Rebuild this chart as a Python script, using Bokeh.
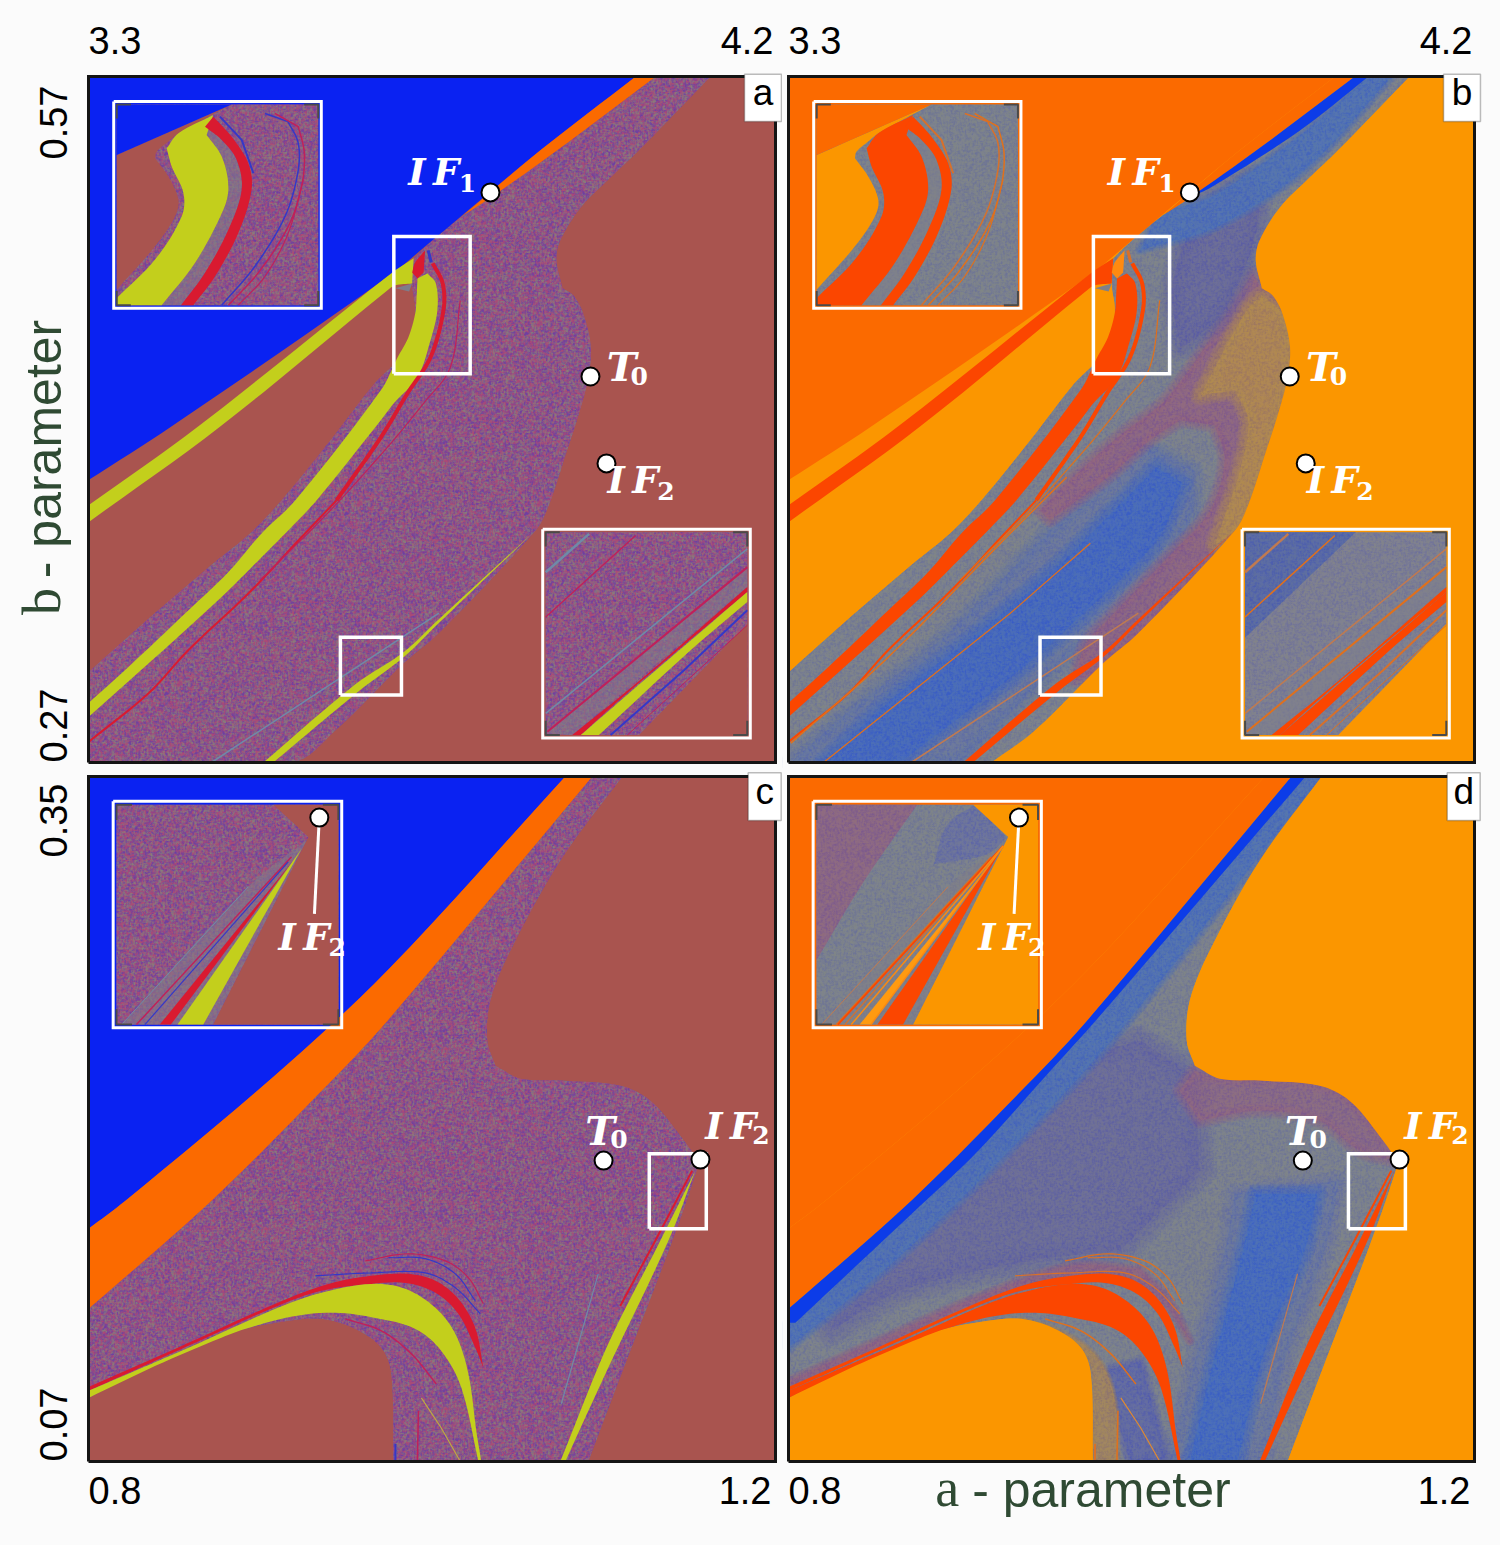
import base64, struct, zlib
import numpy as np
from bokeh.plotting import figure
from bokeh.models import Range1d, Label, BoxAnnotation, ImageURLTexture
from bokeh.layouts import column, row
from bokeh.embed import file_html
from bokeh.resources import INLINE

# ---------- parameter windows and tick labels ----------
A_TOP = (3.3, 4.2); B_TOP = (0.27, 0.57)
A_BOT = (0.8, 1.2); B_BOT = (0.07, 0.35)
TICKS_TOP = ("3.3", "4.2"); TICKS_LEFT_TOP = ("0.27", "0.57")
TICKS_BOT = ("0.8", "1.2"); TICKS_LEFT_BOT = ("0.07", "0.35")

# ---------- a,b plane, upper panels: regions ----------
UB_A = [3.3, 4.017, 3.892, 3.749, 3.693, 3.409, 3.3]
UB_B = [.57, .57, .5377, .4979, .4826, .417, .3935]
US_A = [4.017, 4.043, 3.914, 3.827, 3.791, 3.892]
US_B = [.57, .57, .5377, .5171, .5093, .5377]
UN_A = [3.749, 3.791, 3.827, 3.914, 4.043, 4.115, 4.021, 3.984, 3.945, 3.918, 3.913, 3.921, 3.935, 3.948, 3.958,
        3.954, 3.941, 3.927, 3.903, 3.886, 3.759, 3.713, 3.624, 3.566, 3.3, 3.3, 3.381, 3.464, 3.512, 3.553, 3.617,
        3.675, 3.718, 3.726, 3.728, 3.724, 3.726]
UN_B = [.4979, .5093, .5171, .5377, .57, .57, .5377, .5259, .5128, .4983, .4896, .4774, .4743, .4664, .4516,
        .4372, .421, .4066, .3825, .3716, .3266, .3135, .2842, .27, .27, .3095, .3336, .3572, .3703, .3847, .4109,
        .4358, .4503, .459, .4691, .4787, .4905]
UY_A = [3.3, 3.352, 3.431, 3.483, 3.527, 3.571, 3.683, 3.705, 3.719, 3.728, 3.730, 3.731, 3.744, 3.755, 3.757,
        3.748, 3.731, 3.700, 3.683, 3.599, 3.571, 3.523, 3.474, 3.388, 3.3]
UY_B = [.296, .3117, .3366, .3532, .3703, .3847, .4328, .4472, .4559, .4664, .4752, .4817, .4839, .4795, .4677,
        .4546, .4385, .4271, .4197, .3847, .3747, .3585, .3423, .3161, .2899]
UW_A = [3.3, 3.444, 3.698, 3.726, 3.724, 3.702, 3.693, 3.473, 3.3]
UW_B = [.3825, .417, .4843, .4905, .4795, .4787, .4769, .417, .3751]
UT_A = [3.702, 3.724, 3.72]; UT_B = [.4774, .4795, .476]
URB_A = [3.724, 3.728, 3.741, 3.739, 3.731]
URB_B = [.4843, .4887, .494, .4843, .4817]
UBL_A = [3.745, 3.749]; UBL_B = [.494, .4887]
UR1_A = [3.751, 3.764, 3.765, 3.748, 3.718, 3.683, 3.625]
UR1_B = [.4883, .4795, .4677, .4472, .4315, .4122, .3847]
UR2_A = [3.625, 3.579, 3.51, 3.431, 3.379, 3.3]
UR2_B = [.3847, .3685, .3441, .3192, .3004, .279]
UL_A = [3.529, 3.65, 3.713, 3.759, 3.886, 3.759, 3.713, 3.656, 3.542]
UL_B = [.27, .3043, .3183, .3327, .3716, .331, .3161, .3017, .27]
UC_A = [3.787, 3.774, 3.739, 3.696, 3.617, 3.525]
UC_B = [.4721, .4428, .4271, .4096, .3803, .3498]
UG_A = [3.461, 3.759]; UG_B = [.27, .3353]

# panel b shading
BS_A = [4.043, 4.061, 3.971, 3.859, 3.827, 3.914]
BS_B = [.57, .57, .5464, .5224, .5171, .5377]
BM_A = [4.061, 4.091, 3.984, 3.866, 3.761, 3.791, 3.859, 3.971]
BM_B = [.57, .57, .5311, .5049, .494, .5093, .518, .5442]
BV_A = [3.844, 3.909, 3.918, 3.901, 3.866, 3.814, 3.804]
BV_B = [.5119, .5263, .5119, .4883, .4651, .4507, .4795]
BP_A = [3.909, 3.8, 3.735, 3.669, 3.63, 3.643, 3.722, 3.774, 3.814, 3.859, 3.872, 3.853, 3.807, 3.722, 3.689, 3.676,
        3.709, 3.886, 3.903, 3.927, 3.941, 3.954, 3.958, 3.948, 3.935, 3.921]
BP_B = [.4839, .4306, .4131, .3935, .3803, .376, .3956, .4109, .4197, .4175, .4022, .3803, .3629, .3336, .3213, .306,
        .3104, .3716, .3825, .4066, .421, .4372, .4516, .4664, .4743, .4774]
BT_A = [3.921, 3.948, 3.958, 3.954, 3.941, 3.927, 3.903, 3.886, 3.859, 3.892, 3.903, 3.886, 3.84, 3.901]
BT_B = [.4743, .4664, .4516, .4372, .421, .4066, .3825, .3716, .365, .3978, .4197, .4328, .4306, .4677]
BC_A = [3.817, 3.783, 3.718, 3.652, 3.548, 3.434, 3.346, 3.447, 3.608, 3.696, 3.783]
BC_B = [.3921, .3991, .3773, .3554, .3266, .2973, .27, .27, .3117, .338, .3672]
BF_A = [3.833, 3.761, 3.63, 3.499, 3.381, 3.303, 3.525, 3.656, 3.761, 3.827]
BF_B = [.3978, .4109, .3672, .3235, .293, .27, .27, .3126, .341, .376]
BO1_A = [3.303, 3.431, 3.582, 3.665]; BO1_B = [.2785, .3161, .3672, .3948]
BO2_A = [3.346, 3.591, 3.696]; BO2_B = [.27, .3353, .3659]

# ---------- a,b plane, lower panels ----------
LB_A = [.8, 1.0776, .9746, .9077, .8215, .8]
LB_B = [.35, .35, .2711, .2273, .1766, .1651]
LS_A = [1.0776, 1.0933, .9746, .9438, .8716, .8, .8, .8215, .9077, .9746]
LS_B = [.35, .35, .2506, .2273, .1766, .1324, .1651, .1766, .2273, .2711]
LN_A = [1.0933, 1.1108, 1.0747, 1.0456, 1.034, 1.0322, 1.0369, 1.0514, 1.0747, 1.1096, 1.1271, 1.1445, 1.1544, 1.1544,
        1.1399, 1.1154, 1.1015, 1.091, .9775, .9763, .9705, .9554, .9356, .9164, .8873, .839, .8, .8, .8716, .9438, .9746]
LN_B = [.35, .35, .3156, .2788, .2584, .242, .2318, .2265, .2257, .2236, .2175, .2032, .1929, .1897,
        .1602, .1152, .0895, .07, .07, .1058, .1165, .1242, .1283, .1275, .1234, .1099, .096, .1324, .1766, .2273, .2506]
LY_A = [.8, .8582, .9088, .9356, .9647, .9845, 1.002, 1.0136, 1.0212, 1.0258, 1.0287, 1.027, 1.0171, 1.0054, .9903, .967,
        .9438, .9205, .8931, .8774, .839, .8]
LY_B = [.0989, .1165, .1324, .139, .1426, .1406, .1328, .1222, .1058, .0825, .07, .07, .1001, .1152, .1242, .1287,
        .1308, .1295, .1246, .1206, .1091, .096]
LR_A = [.8, .8582, .9088, .9397, .9647, .9862, 1.002, 1.0153, 1.0252, 1.0299, 1.0252, 1.0153, 1.002, .9845, .9647, .9356,
        .9088, .8582, .8]
LR_B = [.1005, .1185, .1345, .1426, .1459, .1467, .1439, .1365, .1246, .1083, .1165, .1304, .139, .143, .1426, .1398,
        .1332, .1173, .0989]
LY2_A = [1.1533, 1.1376, 1.1026, 1.0776, 1.0747, 1.1026, 1.1329]
LY2_B = [.1889, .1602, .1083, .07, .07, .1181, .1602]
LR2_A = [1.1515, 1.13, 1.1096]; LR2_B = [.1889, .1602, .1336]
LT1_A = [.9321, .9647, .9961, 1.0136, 1.0281]; LT1_B = [.1459, .1471, .1471, .141, .1304]
LT2_A = [.9612, .9862, 1.0078, 1.0212, 1.0299]; LT2_B = [.152, .1549, .152, .1451, .1345]
LT3_A = [.9746, .9961, 1.0136, 1.0252]; LT3_B = [.1533, .1529, .1467, .1357]
LT4_A = [.9496, .9705, .988, 1.0025]; LT4_B = [.1283, .1234, .114, .1017]
LT5_A = [.9921, .9915]; LT5_B = [.0907, .07]
LT6_A = [.9938, 1.0054, 1.0165]; LT6_B = [.096, .0837, .07]
LT7_A = [.9787, .9787]; LT7_B = [.0772, .07]
LT8_A = [1.0968, 1.0753]; LT8_B = [.1467, .0936]

# panel d shading
DS_A = [1.0933, 1.1015, .9816, .9496, .9106, .8768, .804, .8, .8, .8716, .9438, .9746]
DS_B = [.35, .35, .2522, .2273, .197, .1745, .1267, .1267, .1324, .1766, .2273, .2506]
DM_A = [1.1015, 1.1108, .9932, .9286, .8652, .8, .8, .804, .8768, .9106, .9496, .9816]
DM_B = [.35, .35, .2461, .197, .1541, .1165, .1267, .1267, .1745, .197, .2273, .2522]
DV_A = [1.0049, 1.0369, 1.0398, .9932, .9408, .8652, .8244, .8303, .9001, .9699]
DV_B = [.242, .2277, .1889, .1561, .152, .1398, .1234, .1357, .1889, .2338]
DC_A = [1.0724, 1.1085, 1.1009, 1.0776, 1.0619, 1.034, 1.0468, 1.0648]
DC_B = [.1794, .1794, .1561, .1152, .07, .07, .1083, .1561]
DF_A = [1.0602, 1.1213, 1.1125, 1.0893, 1.0776, 1.0223, 1.0369, 1.0543]
DF_B = [.1794, .1848, .1561, .1111, .07, .07, .1111, .1561]
DP_A = [1.0369, 1.0514, 1.0747, 1.1096, 1.1271, 1.1445, 1.1544, 1.1329, 1.1096, 1.0747, 1.0398, 1.0281]
DP_B = [.2298, .2265, .2257, .2236, .2175, .2032, .1929, .197, .2093, .2134, .2093, .2216]
DA_A = [.8, .8582, .9088, .9647, 1.0049, 1.0223, 1.034, 1.0223, 1.0049, .9647, .9088, .8582, .8]
DA_B = [.103, .1214, .1369, .15, .1488, .1357, .1193, .1316, .1418, .1451, .1345, .1185, .1005]
DL_A = [.9775, .9775, .9921, .9903, .9816, .9641, .9356, .9554, .9705]
DL_B = [.1058, .07, .07, .0948, .1111, .1214, .1283, .1242, .1165]
DK_A = [.9845, 1.0054, 1.0212, .999]; DK_B = [.107, .1111, .07, .07]

# ---------- enlarged views, percent across and down each window ----------
I1_BLUE = ([0, 57, 0], [0, 0, 25.2])
I1_BROWN = ([0, 57, 30.6, 25.6, 19.8, 19, 25.6, 30.6, 28.9, 19, 0], [25.2, 0, 14.4, 18.5, 23.5, 26.8, 35.9, 47.5, 55.8, 70.7, 92.2])
I1_YEL = ([0, 19, 32.2, 33.1, 27.3, 24.8, 30.6, 47.9, 44.6, 52.1, 55.4, 52.9, 38.8, 22.3, 0],
          [96.4, 77.3, 55.8, 44.2, 31, 21.9, 14.4, 5.3, 15.2, 26, 40.9, 52.5, 79, 100, 100])
I1_RED = ([43.8, 47.9, 57, 65.3, 66.9, 60.3, 48.8, 38, 31.9, 43.8, 55.4, 62, 59.5, 52.1],
          [11.1, 6.1, 16.1, 29.3, 42.5, 64.1, 85.6, 100, 100, 83.9, 62.4, 42.5, 27.6, 17.7])
I1_GREY = ([22.3, 38.8, 52.9, 55.4, 52.1, 44.6, 43.8, 52.1, 59.5, 62, 55.4, 43.8, 31.9],
           [100, 79, 52.5, 40.9, 26, 15.2, 11.1, 17.7, 27.6, 42.5, 62.4, 83.9, 100])
I1_L1 = ([51.2, 62, 67.8], [6.1, 17.7, 34.3])
I1_L2 = ([73.6, 85, 90.1, 89.8, 83.5, 68.6, 52.1], [4.5, 8.6, 19.4, 34.3, 55.8, 80.6, 100])
I1_L3 = ([78.5, 90.1, 93.1, 91.7, 85.1, 70.2, 55.4], [4.5, 11.1, 24.3, 40.9, 60.8, 83.9, 100])
I1_L4 = ([92.6, 85.1, 73.6, 60.3], [37.6, 64.1, 85.6, 100])

I2_BROWN = ([46.3, 100, 100], [100, 45.1, 100])
I2_GREY = ([0, 100, 100, 13.2], [99.2, 18, 27, 100])
I2_YEL = ([17.4, 48.8, 100, 100, 71.9, 26.4], [100, 73, 29.5, 34.4, 58.2, 100])
I2_RED = ([13.2, 48.8, 100, 100, 63.6, 35.5, 17.4], [100, 71.3, 27, 29.5, 59.8, 83.6, 100])
I2_L1 = ([32.2, 68.6, 100], [100, 68, 38.5])
I2_L2 = ([40.5, 100], [100, 45.9])
I2_L3 = ([.8, 100], [98.4, 17.2])
I2_L4 = ([0, 100], [89.3, 8.2])
I2_L5 = ([0, 44.6], [41.8, 1.6])
I2_L6 = ([0, 21.5], [19.7, .8])

I3_BROWN = ([70.7, 86.5, 43.6, 100, 100], [0, 14.7, 100, 100, 0])
I3_GREY = ([85.7, 59.4, 2.3, 43.6], [16.2, 37.3, 100, 100])
I3_YEL = ([83.5, 27.5, 39.1], [19.9, 100, 100])
I3_RED = ([79.2, 19.5, 24.5], [26, 100, 100])
I3_L1 = ([78.9, 9], [23.7, 100])
I3_L2 = ([77.4, 12.8], [26, 100])
I3_L3 = ([59.4, 2.3], [37.3, 100])
I3_STICK = ([91.4, 89.2], [5.9, 49.7])
I3_DOT = ([91.4], [5.9])
I4_PURPLE = ([0, 45.5, 21.6, 0], [0, 0, 34.6, 70.7])
I4_BLUE = ([71.6, 85.8, 76.9, 53, 59], [0, 15, 22.6, 27.1, 9])
I4_L1 = ([84.3, 9.7], [18.8, 100])
I4_L2 = ([84.3, 15.7], [18.8, 100])
I4_L3 = ([84.3, 24.6], [18.8, 100])

# ---------- marked points ----------
T0_TOP = (3.9576, .4388); IF1_TOP = (3.8266, .5193); IF2_TOP = (3.9786, .4008)
T0_BOT = (1.0999, .1930); IF2_BOT = (1.1563, .1934)

# ---------- palettes ----------
LEFT = dict(bg="#a9544f", blue="#0a22f2", strip="#fb6a00", noise="#805488", yellow="#c3cf1c",
            red="#d91a30", grey="#7f7c8a", thin_red="#c0205a", thin_blue="#3438c8", steel="#6f8aa8", olive="#c0a840",
            grain=("#6a3aa8", "#b44672", "#8a8478"), grain_alpha=225)
RIGHT = dict(bg="#fb9600", blue="#fb6a00", strip="#fb6a00", noise="#77808c", yellow="#fb4600",
             red="#fb4600", grey="#80808a", thin_red="#e0701c", thin_blue="#d8702a", steel="#c07a50", olive="#e08a30",
             grain=("#5a5ea8", "#8a8a90", "#8e907a"), grain_alpha=105)

SANS = "Liberation Sans"; SERIF = "Liberation Serif"; LABEL_SERIF = "DejaVu Serif"; GREEN = "#2f4a33"; PAGE = "#fbfbfb"


def grain_texture(cols, alpha):
    """Fine mottling of the chaotic regions: a fill style only, it carries no values."""
    n = 180
    i, j = np.mgrid[0:n, 0:n]
    w = []
    for k in range(3):
        h = np.sin(i * 12.9898 + j * 78.233 + k * 37.719) * 43758.5453
        h = h - np.floor(h)
        h = (2 * h + np.roll(h, 1, 0) + np.roll(h, -1, 0) + np.roll(h, 1, 1) + np.roll(h, -1, 1)) / 6
        w.append(((h - h.min()) / (h.max() - h.min())) ** 3)
    w = np.array(w)
    w = w / w.sum(axis=0)
    rgb = np.array([[int(c[t:t + 2], 16) for t in (1, 3, 5)] for c in cols], float)
    img = np.einsum("kij,kc->ijc", w, rgb)
    rgba = np.dstack([img, np.full((n, n), alpha)]).astype(np.uint8)
    raw = b"".join(b"\x00" + rgba[r].tobytes() for r in range(n))

    def chunk(tag, data):
        return struct.pack(">I", len(data)) + tag + data + struct.pack(">I", zlib.crc32(tag + data))
    png = b"\x89PNG\r\n\x1a\n" + chunk(b"IHDR", struct.pack(">IIBBBBB", n, n, 8, 6, 0, 0, 0)) + \
        chunk(b"IDAT", zlib.compress(raw, 9)) + chunk(b"IEND", b"")
    return "data:image/png;base64," + base64.b64encode(png).decode()


def smooth(p, a, b, closed=True):
    sx = p.width / (p.x_range.end - p.x_range.start)
    sy = p.height / (p.y_range.end - p.y_range.start)
    P = np.column_stack([np.asarray(a, float) * sx, np.asarray(b, float) * sy])
    n = len(P)
    if n < 4:
        return a, b
    idx = list(range(n)) + ([0] if closed else [])
    corner = [False] * n
    for i in range(n):
        if not closed and i in (0, n - 1):
            corner[i] = True
            continue
        u = P[i] - P[(i - 1) % n]
        v = P[(i + 1) % n] - P[i]
        nu, nv = np.hypot(*u), np.hypot(*v)
        if nu == 0 or nv == 0 or np.dot(u, v) / (nu * nv) < 0.8:
            corner[i] = True
    out = []
    for k in range(len(idx) - 1):
        i, j = idx[k], idx[k + 1]
        L = np.hypot(*(P[j] - P[i]))
        if L == 0:
            continue
        ti = P[j] - P[i] if corner[i] else (P[j] - P[(i - 1) % n])
        tj = P[j] - P[i] if corner[j] else (P[(j + 1) % n] - P[i])
        ti = ti / max(np.hypot(*ti), 1e-9) * L
        tj = tj / max(np.hypot(*tj), 1e-9) * L
        for t in np.linspace(0, 1, 8, endpoint=False):
            h = (2*t**3 - 3*t**2 + 1) * P[i] + (t**3 - 2*t**2 + t) * ti + (-2*t**3 + 3*t**2) * P[j] + (t**3 - t**2) * tj
            out.append(h)
    if not closed:
        out.append(P[-1])
    out = np.array(out)
    return out[:, 0] / sx, out[:, 1] / sy


def poly(p, a, b, color, soft=0, alpha=1.0):
    xs, ys = smooth(p, a, b)
    if soft:
        for w in np.linspace(soft, soft / 6, 6):
            p.patch(xs, ys, fill_alpha=0, line_color=color, line_alpha=.2 * alpha, line_width=float(w), line_join="round")
    p.patch(xs, ys, fill_color=color, fill_alpha=alpha, line_color=None)


def curve(p, a, b, color, width):
    xs, ys = smooth(p, a, b, closed=False)
    p.line(xs, ys, line_color=color, line_width=width)


def speckle(p, a, b, c):
    xs, ys = smooth(p, a, b)
    tex = ImageURLTexture(url=grain_texture(c["grain"], c["grain_alpha"]), repetition="repeat")
    p.patch(xs, ys, fill_alpha=0, line_color=None, hatch_pattern="grain", hatch_extra={"grain": tex}, hatch_color="black", hatch_alpha=1)


def make(w, h, xr, yr, left, right, top, bottom, bg):
    sx = (xr[1] - xr[0]) / w
    sy = (yr[1] - yr[0]) / h
    p = figure(width=left + w + right, height=top + h + bottom,
               x_range=Range1d(xr[0] - left * sx, xr[1] + right * sx),
               y_range=Range1d(yr[0] - bottom * sy, yr[1] + top * sy),
               output_backend="svg", toolbar_location=None, min_border=0,
               background_fill_color=PAGE, border_fill_color=PAGE)
    p.axis.visible = False
    p.grid.visible = False
    p.outline_line_color = None
    p.patch([xr[0], xr[1], xr[1], xr[0]], [yr[0], yr[0], yr[1], yr[1]], fill_color=bg, line_color=None)
    return p


def mask(p, xr, yr):
    """Page colour round the window, so that soft shading stops at the frame."""
    x0, x1 = p.x_range.start, p.x_range.end
    y0, y1 = p.y_range.start, p.y_range.end
    for ax, bx in (([x0, xr[0], xr[0], x0], [y0, y0, y1, y1]), ([xr[1], x1, x1, xr[1]], [y0, y0, y1, y1]),
                   ([x0, x1, x1, x0], [y0, y0, yr[0], yr[0]]), ([x0, x1, x1, x0], [yr[1], yr[1], y1, y1])):
        p.patch(ax, bx, fill_color=PAGE, line_color=None)


def outline(p, xr, yr):
    p.line([xr[0], xr[1], xr[1], xr[0], xr[0]], [yr[0], yr[0], yr[1], yr[1], yr[0]], line_color="#141414",
           line_width=3, line_join="miter")


def window(a0, a1, b0, b1):
    def f(fx, fy):
        return a0 + (a1 - a0) * np.array(fx, float) / 100, b0 + (b1 - b0) * np.array(fy, float) / 100
    return f


def txt(p, x, y, s, size, color="black", font=SANS, style="normal", align="left", angle=0, dx=0, dy=0):
    lift = .38 * size
    if angle:
        dx -= lift
    else:
        dy += lift
    p.add_layout(Label(x=x, y=y, text=s, text_font=font, text_font_size=f"{size}px", text_font_style=style,
                       text_color=color, text_align=align, text_baseline="alphabetic", angle=angle,
                       x_offset=dx, y_offset=dy))


def frame(p, f):
    xs, ys = f([-1.5, 101.5, 101.5, -1.5, -1.5], [-1.5, -1.5, 101.5, 101.5, -1.5])
    p.line(xs, ys, line_color="white", line_width=3, line_join="miter")


def corners(p, f):
    for fx, fy in (([0, 0, 7], [7, 0, 0]), ([93, 100, 100], [0, 0, 7]), ([0, 0, 7], [93, 100, 100]), ([93, 100, 100], [100, 100, 93])):
        xs, ys = f(fx, fy)
        p.line(xs, ys, line_color="#4a4a4a", line_width=2)


def zoombox(p, a0, a1, b0, b1):
    p.line([a0, a1, a1, a0, a0], [b0, b0, b1, b1, b0], line_color="white", line_width=3.5, line_join="miter")


def letter(p, s, x0, x1, y0, y1):
    p.add_layout(BoxAnnotation(left=x0, right=x1, bottom=y0, top=y1, fill_color="white", fill_alpha=1,
                               line_color="#222222", line_width=1.5))
    txt(p, (x0 + x1) / 2, y0, s, 37, align="center", dy=15)


def marks(p, xs, ys):
    p.scatter(xs, ys, size=18, fill_color="white", line_color="black", line_width=2)


def name(p, x, y, head, sub, xs, ys, size=37):
    txt(p, x, y, head, size, color="white", font=LABEL_SERIF, style="bold italic")
    txt(p, xs, ys, sub, 25, color="white", font=LABEL_SERIF, style="bold")


def panel_top(c, right, box):
    p = make(*box, c["bg"])
    xr, yr = box[2], box[3]
    poly(p, UN_A, UN_B, c["noise"])
    if right:
        poly(p, BF_A, BF_B, "#4a68b8", soft=20, alpha=.6)
        poly(p, BC_A, BC_B, "#1f58dc", soft=22, alpha=.95)
        poly(p, BP_A, BP_B, "#9a4c78", soft=16, alpha=.85)
        poly(p, BT_A, BT_B, "#cc8a2a", soft=20, alpha=.95)
        poly(p, BV_A, BV_B, "#5050a8", soft=26, alpha=.75)
        poly(p, BM_A, BM_B, "#2f66cc", soft=10, alpha=.95)
    speckle(p, UN_A, UN_B, c)
    if right:
        poly(p, UN_A[5:24] + [4.2, 4.2], UN_B[5:24] + [.27, .57], c["bg"])
        poly(p, UN_A[25:] + UN_A[:5] + [3.3], UN_B[25:] + UN_B[:5] + [.57], c["bg"])
    poly(p, UB_A, UB_B, c["blue"])
    poly(p, US_A, US_B, c["strip"])
    if right:
        poly(p, BS_A, BS_B, "#0c3ce8")
    poly(p, UW_A, UW_B, c["yellow"])
    poly(p, UY_A, UY_B, c["yellow"])
    poly(p, UL_A, UL_B, c["yellow"])
    poly(p, UT_A, UT_B, c["grey"])
    poly(p, URB_A, URB_B, c["red"] if not right else "#ff8a10")
    curve(p, UBL_A, UBL_B, c["thin_blue"], 3)
    curve(p, UR1_A, UR1_B, c["red"], 4)
    curve(p, UR2_A, UR2_B, c["red"], 2)
    curve(p, UC_A, UC_B, c["thin_red"], 1.2)
    curve(p, UG_A, UG_B, c["steel"], 1.5)
    if right:
        curve(p, BO1_A, BO1_B, "#e0701c", 1.5)
        curve(p, BO2_A, BO2_B, "#e0701c", 1.2)
    mask(p, xr, yr)
    zoombox(p, 3.70, 3.80, .44, .50)
    zoombox(p, 3.63, 3.71, .2995, .3248)
    # enlarged view of the fold
    f = window(3.337, 3.601, .5578, .47)
    full = f([0, 100, 100, 0], [0, 0, 100, 100])
    poly(p, *full, c["noise"])
    speckle(p, *full, c)
    poly(p, *f(*I1_GREY), c["grey"], alpha=.55)
    poly(p, *f(*I1_BROWN), c["bg"])
    poly(p, *f(*I1_BLUE), c["blue"])
    poly(p, *f(*I1_YEL), c["yellow"])
    poly(p, *f(*I1_RED), c["red"])
    curve(p, *f(*I1_L1), c["thin_blue"], 2)
    curve(p, *f(*I1_L2), c["thin_blue"], 1.5)
    curve(p, *f(*I1_L3), c["thin_red"], 1.5)
    curve(p, *f(*I1_L4), c["thin_red"], 1.2)
    frame(p, f)
    corners(p, f)
    # enlarged view near the lower tongue
    f = window(3.899, 4.163, .3707, .282)
    full = f([0, 100, 100, 0], [0, 0, 100, 100])
    poly(p, *full, c["noise"] if not right else "#7b7c92")
    if right:
        poly(p, *f([0, 55, 0], [0, 0, 52]), "#3f5ab4")
    speckle(p, *full, c)
    poly(p, *f(*I2_GREY), c["grey"], alpha=.55)
    poly(p, *f(*I2_BROWN), c["bg"])
    poly(p, *f(*I2_RED), c["red"])
    poly(p, *f(*I2_YEL), c["yellow"])
    curve(p, *f(*I2_L1), c["thin_blue"], 2)
    curve(p, *f(*I2_L2), c["thin_red"], 1)
    curve(p, *f(*I2_L3), c["thin_red"], 2)
    curve(p, *f(*I2_L4), c["steel"], 1.5)
    curve(p, *f(*I2_L5), c["thin_red"], 1.5)
    curve(p, *f(*I2_L6), c["steel"], 2.5)
    frame(p, f)
    corners(p, f)
    outline(p, xr, yr)
    marks(p, [T0_TOP[0], IF1_TOP[0], IF2_TOP[0]], [T0_TOP[1], IF1_TOP[1], IF2_TOP[1]])
    name(p, 3.719, .5219, "I\u2009F", "1", 3.785, .5193)
    name(p, 3.979, .4367, "T", "0", 4.01, .435, size=40)
    name(p, 3.98, .3873, "I\u2009F", "2", 4.045, .3847)
    txt(p, A_TOP[0], B_TOP[1], TICKS_TOP[0], 38, dy=22)
    txt(p, A_TOP[1], B_TOP[1], TICKS_TOP[1], 38, align="right", dx=-2, dy=22)
    return p


def panel_bottom(c, right, box):
    p = make(*box, c["bg"])
    xr, yr = box[2], box[3]
    poly(p, LN_A, LN_B, c["noise"])
    if right:
        poly(p, DV_A, DV_B, "#5252a8", soft=34, alpha=.7)
        poly(p, DF_A, DF_B, "#4a68b8", soft=22, alpha=.45)
        poly(p, DC_A, DC_B, "#1f5cdc", soft=20, alpha=.95)
        poly(p, DK_A, DK_B, "#4452b8", soft=12, alpha=.8)
        poly(p, DP_A, DP_B, "#95507a", soft=16, alpha=.8)
        poly(p, DM_A, DM_B, "#2f66cc", soft=12, alpha=.95)
        poly(p, DA_A, DA_B, "#96507a", soft=10, alpha=.9)
        poly(p, DL_A, DL_B, "#b8843c", soft=6, alpha=.9)
    speckle(p, LN_A, LN_B, c)
    if right:
        poly(p, LN_A[1:18] + [1.2, 1.2], LN_B[1:18] + [.07, .35], c["bg"])
        poly(p, LN_A[18:27] + [.8], LN_B[18:27] + [.07], c["bg"])
    poly(p, LB_A, LB_B, c["blue"])
    poly(p, LS_A, LS_B, c["strip"])
    if right:
        poly(p, DS_A, DS_B, "#0c3ce8")
    poly(p, LR_A, LR_B, c["red"])
    poly(p, LY_A, LY_B, c["yellow"])
    poly(p, LY2_A, LY2_B, c["yellow"])
    curve(p, LR2_A, LR2_B, c["red"], 2)
    curve(p, LT1_A, LT1_B, c["thin_blue"], 1.2)
    curve(p, LT2_A, LT2_B, c["thin_red"], 1.2)
    curve(p, LT3_A, LT3_B, c["thin_blue"], 1.2)
    curve(p, LT4_A, LT4_B, c["thin_red"], 1.5)
    curve(p, LT5_A, LT5_B, c["thin_red"], 1.5)
    curve(p, LT6_A, LT6_B, c["olive"], 1.2)
    curve(p, LT7_A, LT7_B, c["thin_blue"], 2)
    curve(p, LT8_A, LT8_B, c["steel"], 1.2)
    mask(p, xr, yr)
    zoombox(p, 1.1265, 1.1597, .1651, .1958)
    f = window(.8163, .9455, .3385, .2486)
    full = f([0, 100, 100, 0], [0, 0, 100, 100])
    poly(p, *full, c["noise"])
    if right:
        poly(p, *f(*I4_PURPLE), "#96507a", alpha=.9)
        poly(p, *f(*I4_BLUE), "#5260b0", alpha=.7)
    speckle(p, *full, c)
    if not right:
        poly(p, *f(*I3_GREY), c["grey"], alpha=.55)
    poly(p, *f(*I3_BROWN), c["bg"])
    if right:
        poly(p, *f(*I3_GREY), "#827f84", alpha=.45)
    poly(p, *f(*I3_RED), c["red"] if not right else "#ff9a10")
    poly(p, *f(*I3_YEL), c["yellow"])
    curve(p, *f(*I3_L1), c["thin_red"], 1.5)
    curve(p, *f(*I3_L2), c["thin_blue"], 1.2)
    curve(p, *f(*I3_L3), c["steel"], 1)
    if right:
        curve(p, *f(*I4_L1), "#fb4600", 1.8)
        curve(p, *f(*I4_L2), "#fb8a10", 1.5)
        curve(p, *f(*I4_L3), "#fb8a10", 1.5)
    frame(p, f)
    corners(p, f)
    p.line(*f(*I3_STICK), line_color="white", line_width=3)
    marks(p, *f(*I3_DOT))
    outline(p, xr, yr)
    marks(p, [T0_BOT[0], IF2_BOT[0]], [T0_BOT[1], IF2_BOT[1]])
    name(p, .9106, .2788, "I\u2009F", "2", .9397, .2764)
    name(p, 1.0893, .1991, "T", "0", 1.1038, .1979, size=40)
    name(p, 1.1591, .2015, "I\u2009F", "2", 1.1864, .1995)
    txt(p, A_BOT[0], B_BOT[0], TICKS_BOT[0], 38, dy=-43)
    txt(p, A_BOT[1], B_BOT[0], TICKS_BOT[1], 38, align="right", dx=-4, dy=-43)
    return p


pa = panel_top(LEFT, False, (687, 686, A_TOP, B_TOP, 88, 7, 76, 6))
pb = panel_top(RIGHT, True, (686, 686, A_TOP, B_TOP, 6, 9, 76, 6))
pc = panel_bottom(LEFT, False, (687, 685, A_BOT, B_BOT, 88, 7, 8, 78))
pd = panel_bottom(RIGHT, True, (686, 685, A_BOT, B_BOT, 6, 9, 8, 78))

letter(pa, "a", 4.1594, 4.2078, .5503, .5710)
letter(pb, "b", 4.1594, 4.2078, .5503, .5710)
letter(pc, "c", 1.1841, 1.2033, .332, .3515)
letter(pd, "d", 1.1841, 1.2033, .332, .3515)

HALF_PI = np.pi / 2
txt(pa, A_TOP[0], B_TOP[1], TICKS_LEFT_TOP[1], 38, align="right", angle=HALF_PI, dx=-21, dy=-9)
txt(pa, A_TOP[0], B_TOP[0], TICKS_LEFT_TOP[0], 38, angle=HALF_PI, dx=-21)
txt(pc, A_BOT[0], B_BOT[1], TICKS_LEFT_BOT[1], 38, align="right", angle=HALF_PI, dx=-21, dy=-7)
txt(pc, A_BOT[0], B_BOT[0], TICKS_LEFT_BOT[0], 38, angle=HALF_PI, dx=-21)
txt(pa, 3.3, .3345, "b", 54, color=GREEN, font=SERIF, angle=HALF_PI, dx=-26)
txt(pa, 3.3, .3506, "- parameter", 50, color=GREEN, angle=HALF_PI, dx=-26)
txt(pd, .8856, .07, "a", 54, color=GREEN, font=SERIF, dy=-47)
txt(pd, .9071, .07, "- parameter", 50, color=GREEN, dy=-47)

page = column(row(pa, pb), row(pc, pd))
html = file_html(page, INLINE)
html = html.replace("<head>", "<head><style>html,body{background:" + PAGE + "}</style>", 1)
open("out.html", "w").write(html)
